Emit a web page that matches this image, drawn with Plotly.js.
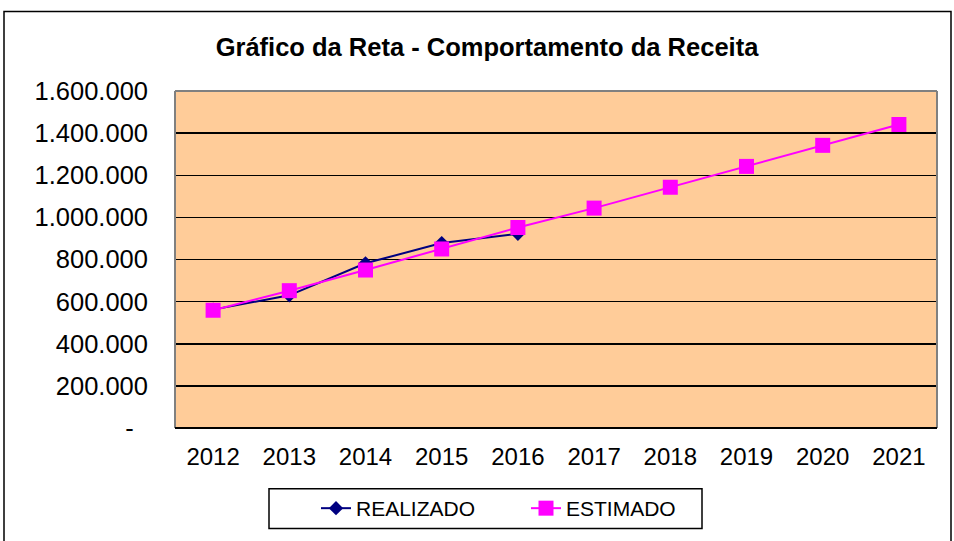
<!DOCTYPE html>
<html>
<head>
<meta charset="utf-8">
<script src="https://cdn.plot.ly/plotly-3.0.1.min.js"></script>
<style>html,body{margin:0;padding:0;background:#fff;}#chart{width:954px;height:541px;}</style>
</head>
<body>
<div id="chart"></div>
<script>
const years = ['2012','2013','2014','2015','2016','2017','2018','2019','2020','2021'];
const realizadoYears = ['2012','2013','2014','2015','2016'];
const realizado = [562000, 630000, 782000, 878000, 922000];
const estimado = [559000, 652000, 750000, 850000, 952000, 1044000, 1143000, 1242000, 1342000, 1441000];
const yTickVals = [0, 200000, 400000, 600000, 800000, 1000000, 1200000, 1400000, 1600000];
const yTickText = ['-\u00a0\u00a0', '200.000', '400.000', '600.000', '800.000', '1.000.000', '1.200.000', '1.400.000', '1.600.000'];

const FONT = 'Liberation Sans, Arial, sans-serif';

const traces = [
  {
    x: realizadoYears, y: realizado, name: 'REALIZADO', type: 'scatter', mode: 'lines+markers',
    line: {color: '#000080', width: 2},
    marker: {symbol: 'diamond', size: 11, color: '#000080'}
  },
  {
    x: years, y: estimado, name: 'ESTIMADO', type: 'scatter', mode: 'lines+markers',
    line: {color: '#FF00FF', width: 2},
    marker: {symbol: 'square', size: 15, color: '#FF00FF'}
  }
];

const L = 175, R = 937, T = 91, B = 430;
const W = 954, H = 541;
const pw = R - L, ph = B - T;
const px = v => (v - L) / pw;
const py = v => (B - v) / ph;

const layout = {
  width: W, height: H,
  margin: {l: L, r: W - R, t: T, b: H - B, pad: 0},
  paper_bgcolor: '#ffffff',
  plot_bgcolor: '#FFCC99',
  font: {family: FONT, color: '#000', size: 24},
  title: {
    text: '<b>Gráfico da Reta - Comportamento da Receita</b>',
    font: {family: FONT, size: 25.5, color: '#000'},
    x: 487 / W, xref: 'container', xanchor: 'center',
    y: 1 - 47 / H, yref: 'container', yanchor: 'middle'
  },
  xaxis: {
    type: 'category',
    categoryorder: 'array', categoryarray: years,
    range: [-0.5, 9.5],
    showgrid: false, zeroline: false,
    showline: false,
    ticks: '',
    tickfont: {family: FONT, size: 24, color: '#000'},
    ticklabelstandoff: 12,
    fixedrange: true
  },
  yaxis: {
    range: [0, 1600000],
    tickvals: yTickVals, ticktext: yTickText,
    showgrid: true, gridcolor: '#000000', gridwidth: 1.5,
    zeroline: false, showline: false,
    ticks: '',
    tickfont: {family: FONT, size: 25.5, color: '#000'},
    ticklabelstandoff: 26,
    fixedrange: true
  },
  showlegend: true,
  legend: {
    orientation: 'h',
    x: px(316), xanchor: 'left',
    y: py(511), yanchor: 'middle',
    borderwidth: 0,
    bgcolor: 'rgba(0,0,0,0)',
    font: {family: FONT, size: 21, color: '#000'},
    traceorder: 'normal',
    entrywidth: 165
  },
  shapes: [
    {type: 'line', xref: 'paper', yref: 'paper', x0: 0, x1: 0, y0: 0, y1: 1, line: {color: '#808080', width: 2}},
    {type: 'line', xref: 'paper', yref: 'paper', x0: 0, x1: 1, y0: 1, y1: 1, line: {color: '#808080', width: 2}},
    {type: 'line', xref: 'paper', yref: 'paper', x0: 1, x1: 1, y0: 0, y1: 1, line: {color: '#808080', width: 2}},
    {type: 'line', xref: 'paper', yref: 'paper', x0: 0, x1: 1, y0: 0, y1: 0, line: {color: '#000', width: 2}},
    {type: 'rect', xref: 'paper', yref: 'paper', x0: px(269), x1: px(702), y0: py(531), y1: py(491), line: {color: '#000', width: 1.5}, fillcolor: '#ffffff', layer: 'below'},
    {type: 'rect', xref: 'paper', yref: 'paper', x0: px(4), x1: px(951), y0: py(548), y1: py(11), line: {color: '#000', width: 1.5}, fillcolor: 'rgba(0,0,0,0)', layer: 'below'}
  ]
};

Plotly.newPlot('chart', traces, layout, {staticPlot: true, displayModeBar: false});
</script>
</body>
</html>
